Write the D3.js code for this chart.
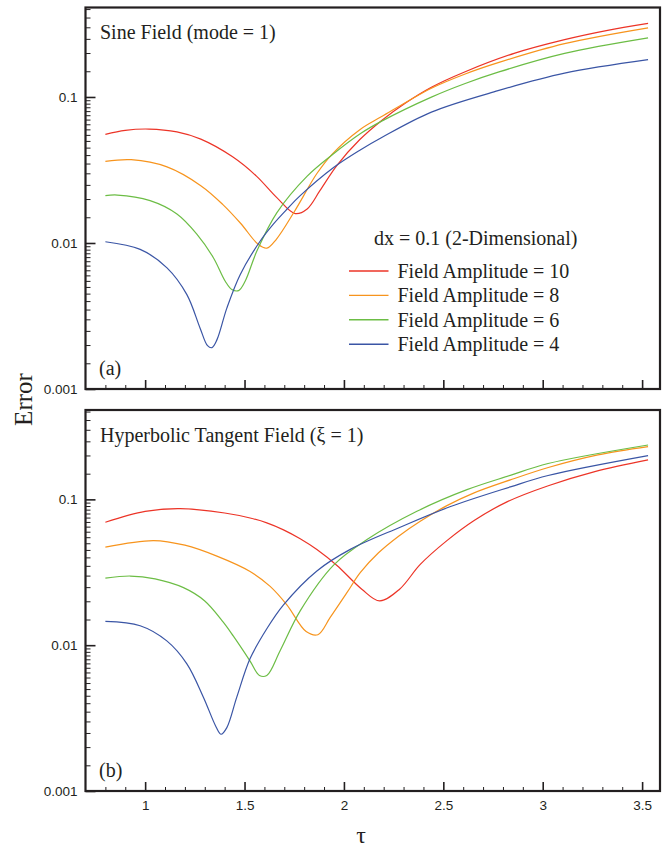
<!DOCTYPE html>
<html lang="en">
<head>
<meta charset="UTF-8">
<script src="https://d3js.org/d3.v7.min.js"></script>
<style>
  body { margin: 0; background: #fff; }
  svg { display: block; }
  .tick text { font-family: "Liberation Sans", Arial, sans-serif; font-size: 13.5px; fill: #231f20; }
  .serif { font-family: "Liberation Serif", "Times New Roman", serif; fill: #231f20; }
</style>
</head>
<body>
<div id="chart"></div>
<script>
// Data: [tau, error]
const amplitudes = [10, 8, 6, 4];

const sine10 = [[0.80,0.0555],[0.90,0.0591],[1.02,0.0603],[1.16,0.0576],[1.28,0.0514],[1.44,0.0389],[1.56,0.0287],[1.66,0.0206],[1.755,0.0159],[1.815,0.0171],[1.88,0.0229],[1.965,0.0340],[2.08,0.0511],[2.19,0.0691],[2.31,0.0909],[2.44,0.1166],[2.61,0.149],[2.86,0.1998],[3.11,0.2472],[3.32,0.2851],[3.53,0.3191]];
const sine8 = [[0.80,0.0362],[0.93,0.0372],[1.11,0.0332],[1.28,0.0247],[1.39,0.0184],[1.48,0.01365],[1.57,0.00975],[1.612,0.00921],[1.66,0.0106],[1.751,0.01644],[1.864,0.0299],[1.94,0.0405],[2.08,0.0597],[2.19,0.0734],[2.44,0.1148],[2.61,0.1438],[2.78,0.1726],[3.11,0.2319],[3.53,0.2977]];
const sine6 = [[0.80,0.0211],[0.86,0.0213],[1.025,0.0195],[1.16,0.0158],[1.26,0.0115],[1.344,0.0079],[1.403,0.00547],[1.436,0.0048],[1.47,0.00472],[1.503,0.00547],[1.562,0.0088],[1.663,0.01615],[1.814,0.0286],[1.94,0.0401],[2.08,0.0558],[2.19,0.0683],[2.44,0.0998],[2.61,0.1237],[2.78,0.1485],[3.11,0.1988],[3.53,0.254]];
const sine4 = [[0.80,0.0102],[0.975,0.00904],[1.11,0.00676],[1.21,0.00443],[1.277,0.0026],[1.314,0.00198],[1.336,0.00192],[1.361,0.00217],[1.411,0.00358],[1.478,0.00607],[1.579,0.01032],[1.646,0.01352],[1.713,0.01702],[1.78,0.02109],[1.948,0.0329],[2.082,0.0434],[2.188,0.0526],[2.44,0.0788],[2.775,0.1104],[3.11,0.1455],[3.53,0.180]];

const tanh10 = [[0.80,0.0697],[1.00,0.0828],[1.176,0.0864],[1.40,0.0806],[1.528,0.0745],[1.612,0.0690],[1.696,0.0618],[1.78,0.0537],[1.864,0.0453],[1.965,0.0352],[2.09,0.0242],[2.18,0.0201],[2.28,0.0242],[2.384,0.0358],[2.518,0.0521],[2.655,0.0716],[2.82,0.0961],[3.028,0.124],[3.262,0.155],[3.53,0.1866]];
const tanh8 = [[0.80,0.0470],[1.042,0.0522],[1.20,0.0485],[1.361,0.0408],[1.528,0.0320],[1.629,0.0253],[1.713,0.0189],[1.81,0.0124],[1.869,0.0118],[1.931,0.0155],[2.015,0.0229],[2.082,0.0314],[2.174,0.0430],[2.275,0.0559],[2.384,0.0708],[2.518,0.0906],[2.652,0.1104],[2.837,0.136],[3.028,0.1654],[3.278,0.2018],[3.53,0.230]];
const tanh6 = [[0.80,0.0288],[0.925,0.0298],[1.05,0.0285],[1.193,0.0248],[1.30,0.0201],[1.393,0.01438],[1.444,0.01152],[1.528,0.00778],[1.575,0.0062],[1.612,0.0062],[1.679,0.00917],[1.78,0.01719],[1.948,0.0354],[2.116,0.053],[2.367,0.0828],[2.619,0.1165],[2.837,0.146],[3.027,0.1761],[3.53,0.236]];
const tanh4 = [[0.80,0.01456],[0.975,0.0136],[1.109,0.0107],[1.21,0.00745],[1.293,0.0044],[1.357,0.00275],[1.382,0.00245],[1.411,0.00272],[1.461,0.0044],[1.528,0.00809],[1.612,0.01296],[1.696,0.0189],[1.864,0.0323],[2.032,0.0454],[2.283,0.0644],[2.533,0.0889],[2.837,0.1217],[3.027,0.1458],[3.53,0.1995]];

const xTicks = [1, 1.5, 2, 2.5, 3, 3.5];
const yTicks = [0.001, 0.01, 0.1];
const yTickLabels = ["0.001", "0.01", "0.1"];

const colors = ["#ec3427", "#f7941d", "#6cbd45", "#3a55a5"];
const ink = "#231f20";

const width = 662, height = 846;
const left = 85.5, right = 660;

const svg = d3.select("#chart").append("svg")
  .attr("width", width).attr("height", height);

const x = d3.scaleLinear().domain([0.7, 3.59]).range([left, right]);

// minor tick values
const xMinor = d3.range(8, 36).map(d => d / 10).filter(d => !xTicks.includes(d));
const yMinor = [];
yTicks.forEach(dec => {
  for (let k = 1.5; k < 10; k += 0.5) {
    if (k * dec <= 0.41) yMinor.push(k * dec);
  }
});

const line = (y) => d3.line().curve(d3.curveCatmullRom.alpha(0.5)).x(d => x(d[0])).y(d => y(d[1]));

function panel(top, bottom, series, title, tag, showXLabels) {
  const y = d3.scaleLog().domain([0.001, 0.41]).range([bottom, top]);
  const g = svg.append("g");

  // x ticks (inward)
  g.append("g")
    .attr("transform", `translate(0,${bottom})`)
    .call(d3.axisBottom(x).tickValues(xMinor).tickSize(-4).tickSizeOuter(0).tickFormat(""))
    .call(a => a.select(".domain").remove())
    .call(a => a.selectAll("line").attr("stroke", ink).attr("stroke-width", 1));
  g.append("g")
    .attr("transform", `translate(0,${bottom})`)
    .call(d3.axisBottom(x).tickValues(xTicks).tickSize(-9).tickSizeOuter(0).tickPadding(9.5)
      .tickFormat(d => showXLabels ? d : ""))
    .call(a => a.select(".domain").remove())
    .call(a => a.selectAll("line").attr("stroke", ink).attr("stroke-width", 1.6));

  // y ticks (inward)
  g.append("g")
    .attr("transform", `translate(${left},0)`)
    .call(d3.axisLeft(y).tickValues(yMinor).tickSize(-5).tickSizeOuter(0).tickFormat(""))
    .call(a => a.select(".domain").remove())
    .call(a => a.selectAll("line").attr("stroke", ink).attr("stroke-width", 1));
  g.append("g")
    .attr("transform", `translate(${left},0)`)
    .call(d3.axisLeft(y).tickValues(yTicks).tickSize(-10).tickSizeOuter(0).tickPadding(8)
      .tickFormat((d, i) => yTickLabels[i]))
    .call(a => a.select(".domain").remove())
    .call(a => a.selectAll("line").attr("stroke", ink).attr("stroke-width", 1.6));

  // curves
  g.selectAll(".curve")
    .data(series)
    .join("path")
    .attr("class", "curve")
    .attr("fill", "none")
    .attr("stroke", (d, i) => colors[i])
    .attr("stroke-width", 1.2)
    .attr("d", d => line(y)(d));

  // frame
  g.append("rect")
    .attr("x", left).attr("y", top)
    .attr("width", right - left).attr("height", bottom - top)
    .attr("fill", "none").attr("stroke", ink).attr("stroke-width", 2.2);

  g.append("text").attr("class", "serif")
    .attr("x", 100).attr("y", top + 31.5)
    .style("font-size", "20px")
    .text(title);

  g.append("text").attr("class", "serif")
    .attr("x", 99).attr("y", bottom - 14)
    .style("font-size", "20px")
    .text(tag);
  return y;
}

panel(7.5, 389, [sine10, sine8, sine6, sine4], "Sine Field (mode = 1)", "(a)", false);
panel(410, 791, [tanh10, tanh8, tanh6, tanh4], "Hyperbolic Tangent Field (\u03BE = 1)", "(b)", true);

// Legend
const legend = svg.append("g");
legend.append("text").attr("class", "serif")
  .attr("x", 374).attr("y", 245)
  .style("font-size", "20px")
  .text("dx = 0.1 (2-Dimensional)");

const rows = legend.selectAll(".row")
  .data(amplitudes)
  .join("g")
  .attr("class", "row")
  .attr("transform", (d, i) => `translate(0,${271 + i * 24.4})`);
rows.append("line")
  .attr("x1", 349).attr("x2", 388.5)
  .attr("stroke", (d, i) => colors[i]).attr("stroke-width", 1.4);
rows.append("text").attr("class", "serif")
  .attr("x", 397.5).attr("y", 7)
  .style("font-size", "20px")
  .text(d => `Field Amplitude = ${d}`);

// Axis titles
svg.append("text").attr("class", "serif")
  .attr("transform", "translate(32,399.5) rotate(-90)")
  .attr("text-anchor", "middle")
  .style("font-size", "25px")
  .text("Error");

svg.append("text").attr("class", "serif")
  .attr("x", 361).attr("y", 842.5)
  .attr("text-anchor", "middle")
  .style("font-size", "24px")
  .text("\u03C4");
</script>
</body>
</html>
